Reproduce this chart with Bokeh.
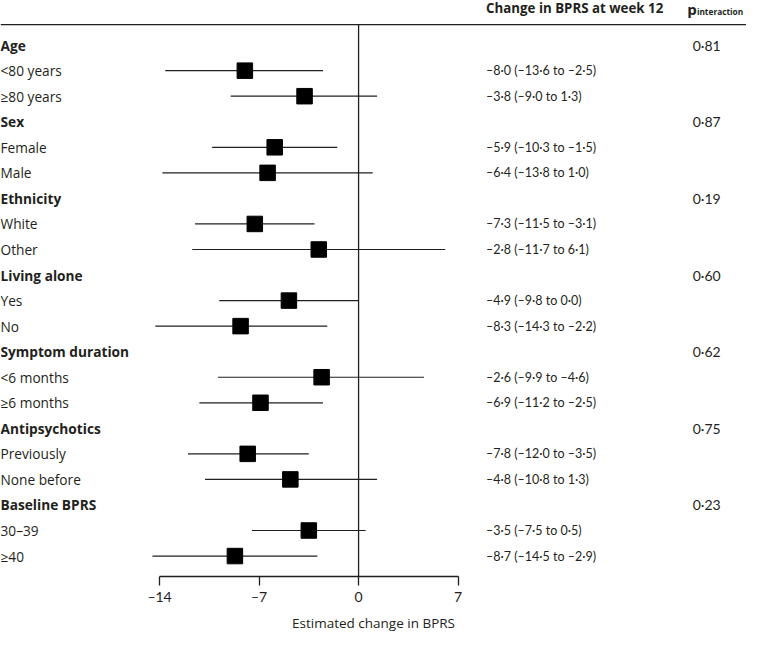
from bokeh.plotting import figure
from bokeh.models import Range1d, FixedTicker, Span, ColumnDataSource
from bokeh.embed import file_html
from bokeh.resources import INLINE
from bokeh.core.properties import value

# ---------------- data ----------------
groups = ["Age", "Sex", "Ethnicity", "Living alone", "Symptom duration",
          "Antipsychotics", "Baseline BPRS"]
p_interaction = ["0·81", "0·87", "0·19", "0·60", "0·62", "0·75", "0·23"]
subgroups = [["<80 years", "≥80 years"], ["Female", "Male"], ["White", "Other"],
             ["Yes", "No"], ["<6 months", "≥6 months"],
             ["Previously", "None before"], ["30–39", "≥40"]]
estimates = [-8.0, -3.8, -5.9, -6.4, -7.3, -2.8, -4.9, -8.3, -2.6, -6.9, -7.8, -4.8, -3.5, -8.7]
lower = [-13.6, -9.0, -10.3, -13.8, -11.5, -11.7, -9.8, -14.3, -9.9, -11.2, -12.0, -10.8, -7.5, -14.5]
upper = [-2.5, 1.3, -1.5, 1.0, -3.1, 6.1, 0.0, -2.2, 4.6, -2.5, -3.5, 1.3, 0.5, -2.9]
ci_labels = ["–8·0 (–13·6 to –2·5)", "–3·8 (–9·0 to 1·3)",
             "–5·9 (–10·3 to –1·5)", "–6·4 (–13·8 to 1·0)",
             "–7·3 (–11·5 to –3·1)", "–2·8 (–11·7 to 6·1)",
             "–4·9 (–9·8 to 0·0)", "–8·3 (–14·3 to –2·2)",
             "–2·6 (–9·9 to –4·6)", "–6·9 (–11·2 to –2·5)",
             "–7·8 (–12·0 to –3·5)", "–4·8 (–10·8 to 1·3)",
             "–3·5 (–7·5 to 0·5)", "–8·7 (–14·5 to –2·9)"]
x_ticks = [-14, -7, 0, 7]
x_tick_labels = ["–14", "–7", "0", "7"]
x_label = "Estimated change in BPRS"
header_ci = "Change in BPRS at week 12"

# ---------------- rows ----------------
group_rows, sub_rows, sub_names = [], [], []
r = 0
for g, subs in zip(groups, subgroups):
    group_rows.append(r)
    r += 1
    for s in subs:
        sub_rows.append(r)
        sub_names.append(s)
        r += 1
n_rows = r

LABEL_FONT = "Open Sans"
NUM_FONT = "Lato"
INK = "#231f20"
X0, X1 = -25.19, 27.29
Y_TOP, Y_BOT = -1.746, n_rows - 0.2
CI_X = 8.97
P_X = 23.5

p = figure(width=746, height=634, output_backend="svg", toolbar_location=None,
           x_range=Range1d(X0, X1), y_range=Range1d(Y_BOT, Y_TOP),
           y_axis_location=None, min_border_left=0, min_border_right=0,
           min_border_top=0, min_border_bottom=40)
p.outline_line_color = None
p.grid.visible = False
p.background_fill_color = "white"

# header separator line and zero line
p.add_layout(Span(location=-0.8, dimension="width", line_color=INK, line_width=1.3))
p.segment(x0=[0], y0=[-0.8], x1=[0], y1=[Y_BOT], line_color=INK, line_width=1.3)

# CIs and squares
src = ColumnDataSource(dict(y=sub_rows, est=estimates, lo=lower, hi=upper,
                            name=sub_names, ci=ci_labels))
p.segment(x0="lo", y0="y", x1="hi", y1="y", source=src, line_color=INK, line_width=1.2)
p.scatter(x="est", y="y", source=src, marker="square", size=15.5,
          fill_color="black", line_color="black")

# texts
p.text(x=[X0] * len(sub_rows), y=sub_rows, text=sub_names, text_font=value(LABEL_FONT),
       text_font_size="13.7px", text_baseline="middle", text_color=INK)
p.text(x=[X0] * len(group_rows), y=group_rows, text=groups, text_font=value(LABEL_FONT),
       text_font_size="13.7px", text_font_style="bold", text_baseline="middle", text_color=INK)
p.text(x=[CI_X] * len(sub_rows), y=sub_rows, text=ci_labels, text_font=value(NUM_FONT),
       text_font_size="12.5px", text_baseline="middle", text_color=INK)
p.text(x=[P_X] * len(group_rows), y=group_rows, text=p_interaction, text_font=value(NUM_FONT),
       text_font_size="14px", text_baseline="middle", text_color=INK)

# headers
p.text(x=[CI_X], y=[-1.44], text=[header_ci], text_font=value(LABEL_FONT),
       text_font_size="13.3px", text_font_style="bold", text_baseline="middle", text_color=INK)
p.text(x=[P_X - 0.38], y=[-1.40], text=["p"], text_font=value(LABEL_FONT),
       text_font_size="15px", text_font_style="bold", text_baseline="middle", text_color=INK)
p.text(x=[P_X + 0.30], y=[-1.31], text=["interaction"], text_font=value(LABEL_FONT),
       text_font_size="8.3px", text_font_style="bold", text_baseline="middle", text_color=INK)

# x axis
ax = p.xaxis[0]
ax.ticker = FixedTicker(ticks=x_ticks)
ax.major_label_overrides = {t: l for t, l in zip(x_ticks, x_tick_labels)}
ax.bounds = (x_ticks[0], x_ticks[-1])
ax.axis_line_color = INK
ax.axis_line_width = 1.3
ax.major_tick_line_color = INK
ax.major_tick_line_width = 1.3
ax.major_tick_in = 0
ax.major_tick_out = 9
ax.minor_tick_line_color = None
ax.major_label_standoff = 2
ax.major_label_text_font = NUM_FONT
ax.major_label_text_font_size = "14px"
ax.major_label_text_color = INK
ax.axis_label = x_label
ax.axis_label_text_font = LABEL_FONT
ax.axis_label_text_font_size = "13.5px"
ax.axis_label_text_font_style = "normal"
ax.axis_label_text_color = INK
ax.axis_label_standoff = 6

open("out.html", "w").write(file_html(p, INLINE))
